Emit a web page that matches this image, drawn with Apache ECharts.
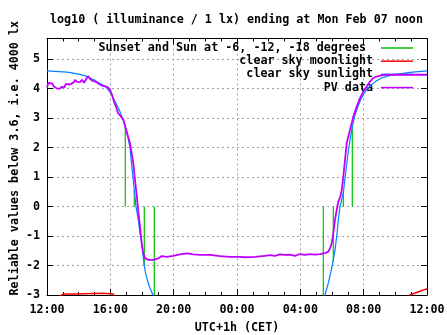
<!DOCTYPE html>
<html><head><meta charset="utf-8">
<script src="https://cdn.jsdelivr.net/npm/echarts@6/dist/echarts.min.js"></script>
<style>html,body{margin:0;padding:0;background:#fff}#c{width:447px;height:335px}</style>
</head><body><div id="c"></div>
<script>
const titleText = 'log10 ( illuminance / 1 lx) ending at Mon Feb 07 noon';
const xTitle = 'UTC+1h (CET)';
const yTitle = 'Reliable values below 3.6, i.e. 4000 lx';
const xTickLabels = ['12:00','16:00','20:00','00:00','04:00','08:00','12:00'];
const names = ['Sunset and Sun at -6, -12, -18 degrees ', 'clear sky moonlight', 'clear sky sunlight', 'PV data'];
const colors = ['#00c000', '#ff0000', '#0080ff', '#c000ff'];

// x values: hours since Sunday 12:00 (noon)
const pvHours = [0.000,0.095,0.316,0.442,0.632,0.695,0.821,0.947,1.074,1.200,1.453,1.579,1.705,1.768,1.895,2.084,2.211,2.337,2.463,2.590,2.716,2.905,3.095,3.284,3.474,3.726,3.853,3.979,4.105,4.232,4.358,4.484,4.611,4.819,5.034,5.242,5.451,5.558,5.665,5.766,5.874,5.981,6.082,6.190,6.297,6.398,6.695,7.030,7.137,7.244,7.560,7.977,8.400,8.823,9.240,9.663,10.295,10.926,11.558,12.190,12.505,13.137,13.768,14.084,14.400,14.716,15.032,15.347,15.663,15.979,16.295,16.611,16.926,17.242,17.558,17.766,17.874,17.981,18.082,18.190,18.297,18.398,18.505,18.613,18.714,18.821,18.928,19.137,19.345,19.560,19.768,19.977,20.192,20.400,20.609,20.823,21.032,21.347,24.000];
const pvLog   = [4.05,4.19,4.18,4.07,4.00,3.96,4.00,4.07,4.03,4.16,4.14,4.13,4.22,4.30,4.23,4.22,4.30,4.20,4.23,4.43,4.33,4.26,4.23,4.16,4.10,4.07,4.04,3.96,3.79,3.56,3.39,3.17,3.10,2.94,2.54,2.15,1.47,0.90,0.39,-0.17,-0.68,-1.25,-1.59,-1.75,-1.78,-1.81,-1.81,-1.76,-1.81,-1.68,-1.71,-1.67,-1.62,-1.59,-1.62,-1.64,-1.64,-1.68,-1.71,-1.71,-1.72,-1.71,-1.67,-1.65,-1.67,-1.62,-1.64,-1.63,-1.67,-1.61,-1.64,-1.61,-1.63,-1.61,-1.58,-1.53,-1.42,-1.25,-0.91,-0.45,-0.11,0.17,0.30,0.55,1.01,1.58,2.15,2.60,3.05,3.39,3.68,3.90,4.07,4.24,4.36,4.41,4.44,4.47,4.47];

const sunHours = [0.000,1.282,1.914,2.444,2.968,3.284,3.707,4.023,4.187,4.402,4.611,4.819,4.945,5.116,5.242,5.350,5.514,5.621,5.766,5.874,5.981,6.082,6.145,6.221,6.335,6.505,6.695,6.821,12.0,17.432,17.558,17.766,17.937,18.044,18.190,18.297,18.398,18.505,18.714,18.853,19.011,19.137,19.282,19.453,19.642,19.832,20.084,20.400,20.716,21.095,21.663,22.295,22.926,24.000];
const sunLog   = [4.60,4.56,4.50,4.43,4.30,4.19,4.07,3.85,3.68,3.45,3.22,2.94,2.70,2.35,2.00,1.40,0.56,0.00,-0.45,-0.90,-1.24,-1.75,-2.00,-2.25,-2.49,-2.77,-3.00,-3.20,null,-3.20,-3.00,-2.60,-2.20,-1.92,-1.47,-1.02,-0.45,0.00,0.46,1.10,1.80,2.25,2.70,3.10,3.40,3.65,3.89,4.09,4.23,4.35,4.45,4.50,4.55,4.60];

const moonHours = [0.60,1.03,1.74,1.74,3.52,3.52,4.19,4.30,12.0,22.80,22.926,23.43,23.87,24.00];
const moonLog   = [-3.10,-2.97,-2.97,-2.94,-2.94,-2.97,-2.97,-3.10,null,-3.10,-3.00,-2.90,-2.81,-2.80];

// sunset, sun at -6, -12, -18 degrees (evening), then -18, -12, -6, sunrise (morning)
const sunEventHours = [4.945,5.514,6.145,6.777,17.450,18.082,18.714,19.282];
const sunEventLog   = [2.70,0.56,-2.00,-3.10,-3.10,-1.87,0.46,2.70];

const pair = (xs, ys) => xs.map((x, i) => [x, ys[i]]);
const greenData = [];
sunEventHours.forEach((h, i) => { greenData.push([h, 0], [h, sunEventLog[i]], [h, null]); });

const FONT = 'DejaVu Sans Mono';
const FS = 11.7;
const txt = {fontFamily: FONT, fontWeight: 'bold', fontSize: FS, color: '#000'};

const chart = echarts.init(document.getElementById('c'), null, {renderer: 'canvas'});
const xCommon = {
  type: 'value', min: 0, max: 24, interval: 4,
  axisLine: {show: true, onZero: false, lineStyle: {color: '#000', width: 1}},
  axisTick: {show: true, inside: true, length: 6, lineStyle: {color: '#000'}},
  minorTick: {show: true, splitNumber: 4, length: 3, lineStyle: {color: '#000'}},
};
const yCommon = {
  type: 'value', min: -3, max: 5.7, interval: 1,
  axisLine: {show: true, onZero: false, lineStyle: {color: '#000', width: 1}},
  axisTick: {show: true, inside: true, length: 6, lineStyle: {color: '#000'}},
};
chart.setOption({
  animation: false,
  backgroundColor: '#fff',
  title: {text: titleText, left: 50, top: 14, padding: 0, textStyle: Object.assign({}, txt)},
  grid: {left: 47, right: 20, top: 38.5, bottom: 40, show: false, containLabel: false, outerBoundsMode: 'none'},
  legend: {
    orient: 'vertical', right: 34, top: 41.5, align: 'right', padding: 0,
    itemWidth: 32, itemHeight: 1.5, itemGap: 0.2, icon: 'rect',
    selectedMode: false,
    textStyle: Object.assign({lineHeight: 13, padding: [0, 3, 0, 0]}, txt),
    data: names
  },
  xAxis: [
    Object.assign({}, xCommon, {
      position: 'bottom',
      name: xTitle, nameLocation: 'middle', nameGap: 27, nameMoveOverlap: false, nameTextStyle: Object.assign({}, txt),
      axisLabel: {margin: 9, ...txt, formatter: v => xTickLabels[Math.round(v / 4)] || ''},
      splitLine: {show: true, lineStyle: {color: '#a0a0a0', type: [2, 3], width: 1}}
    }),
    Object.assign({}, xCommon, {position: 'top', axisLabel: {show: false}, splitLine: {show: false}})
  ],
  yAxis: [
    Object.assign({}, yCommon, {
      position: 'left',
      name: yTitle, nameLocation: 'middle', nameGap: 26, nameMoveOverlap: false,
      nameTextStyle: Object.assign({padding: [0, 0, 0, 17]}, txt),
      axisLabel: {margin: 7, ...txt, showMaxLabel: false, formatter: v => (Math.abs(v - Math.round(v)) < 1e-6 ? String(Math.round(v)) : '')},
      splitLine: {show: true, lineStyle: {color: '#a0a0a0', type: [2, 3], width: 1}}
    }),
    Object.assign({}, yCommon, {position: 'right', axisLabel: {show: false}, splitLine: {show: false}})
  ],
  series: [
    {name: names[0], type: 'line', data: greenData, color: colors[0], showSymbol: false, symbol: 'none', connectNulls: false, lineStyle: {width: 1.2, color: colors[0]}, z: 2},
    {name: names[1], type: 'line', data: pair(moonHours, moonLog), color: colors[1], showSymbol: false, symbol: 'none', connectNulls: false, lineStyle: {width: 1.5, color: colors[1]}, z: 3},
    {name: names[2], type: 'line', data: pair(sunHours, sunLog), color: colors[2], showSymbol: false, symbol: 'none', connectNulls: false, lineStyle: {width: 1.2, color: colors[2]}, z: 4},
    {name: names[3], type: 'line', data: pair(pvHours, pvLog), color: colors[3], showSymbol: false, symbol: 'none', step: false, lineStyle: {width: 1.8, color: colors[3]}, z: 5}
  ]
});
</script>
</body></html>
